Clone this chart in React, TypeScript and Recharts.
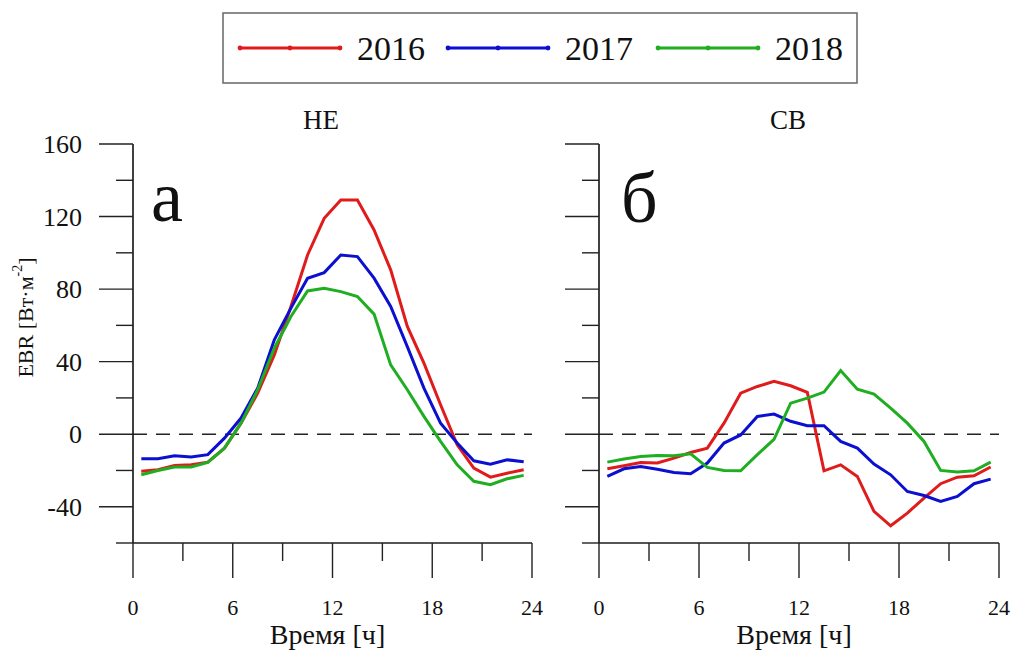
import React from 'react';
import { LineChart, Line, XAxis, YAxis, ReferenceLine } from 'recharts';

const FONT = 'Liberation Serif';

const hours = [0.5, 1.5, 2.5, 3.5, 4.5, 5.5, 6.5, 7.5, 8.5, 9.5, 10.5, 11.5, 12.5, 13.5, 14.5, 15.5, 16.5, 17.5, 18.5, 19.5, 20.5, 21.5, 22.5, 23.5];

const ne2016 = [-20.5, -19.6, -17.2, -16.9, -15.4, -7.7, 6.1, 22.6, 43.7, 70.4, 98.8, 119, 129.1, 129.1, 112.6, 90.6, 59.4, 39.2, 16.2, -5.9, -18.7, -23.7, -21.5, -19.6];
const ne2017 = [-13.5, -13.5, -11.9, -12.6, -11.3, -2.2, 8.9, 25.4, 52, 69.5, 86, 89.1, 98.8, 97.9, 86, 70.4, 48.3, 25.4, 6.1, -4.9, -14.7, -16.5, -14.1, -15.2];
const ne2018 = [-22.4, -20, -18.1, -18.1, -15.6, -7.7, 6.1, 24.5, 47.4, 64.9, 79, 80.5, 78.6, 75.9, 66.2, 38.2, 24.5, 9.8, -4, -16.9, -26, -27.9, -24.6, -22.7];

const cb2016 = [-19.1, -17.4, -15.6, -15.9, -13.2, -10.1, -7.7, 6.1, 22.6, 26.3, 29.1, 26.7, 23, -20.2, -16.9, -23.3, -42.6, -50.5, -43.5, -35.2, -27.3, -23.7, -22.9, -18.1];
const cb2017 = [-23.3, -19.1, -17.8, -19.3, -21.1, -21.8, -15.9, -4.9, -0.4, 9.8, 11.1, 7.1, 4.7, 4.7, -4, -7.7, -16.5, -22.4, -31.6, -33.8, -37.1, -34.3, -27.3, -24.8];
const cb2018 = [-15.4, -13.7, -12.3, -11.7, -11.9, -10.8, -18.3, -20, -20.2, -11.3, -2.8, 17.1, 19.9, 23.2, 35.1, 24.8, 22.1, 14.4, 6.1, -4, -20, -20.9, -20.2, -15.4];

const seriesNames = ['2016', '2017', '2018'];
const seriesColors = ['#e01b1b', '#0a0fd0', '#1fae22'];

const xTicks = [0, 3, 6, 9, 12, 15, 18, 21, 24];
const xLabelTicks = [0, 6, 12, 18, 24];
const yTicks = [-60, -40, -20, 0, 20, 40, 60, 80, 100, 120, 140, 160];
const yLabelTicks = [-40, 0, 40, 80, 120, 160];

const panelTitles = ['НЕ', 'СВ'];
const panelLetters = ['а', 'б'];
const xTitle = 'Время [ч]';

const buildRows = (a: number[], b: number[], c: number[]) =>
  hours.map((h, i) => ({ h, s2016: a[i], s2017: b[i], s2018: c[i] }));

const neRows = buildRows(ne2016, ne2017, ne2018);
const cbRows = buildRows(cb2016, cb2017, cb2018);

const XTick = (props: any) => {
  const { x, y, payload } = props;
  const major = xLabelTicks.includes(payload.value);
  return (
    <g>
      <line x1={x} x2={x} y1={y} y2={y + (major ? 35 : 18)} stroke="#222" strokeWidth={1.4} />
      {major && (
        <text x={x} y={y + 72} textAnchor="middle" fontFamily={FONT} fontSize={22} fill="#111">
          {payload.value}
        </text>
      )}
    </g>
  );
};

const makeYTick = (showLabels: boolean) => (props: any) => {
  const { x, y, payload } = props;
  const major = yLabelTicks.includes(payload.value);
  return (
    <g>
      <line x1={x} x2={x - (major ? 34 : 17)} y1={y} y2={y} stroke="#222" strokeWidth={1.4} />
      {showLabels && major && (
        <text x={x - 51} y={y} dy="0.35em" textAnchor="end" fontFamily={FONT} fontSize={26} fill="#111">
          {payload.value}
        </text>
      )}
    </g>
  );
};

const YLabel = (props: any) => {
  const vb = props.viewBox || {};
  const cx = vb.x + 25;
  const cy = vb.y + vb.height / 2 - 26;
  return (
    <text
      x={cx}
      y={cy}
      transform={`rotate(-90, ${cx}, ${cy})`}
      textAnchor="middle"
      dominantBaseline="central"
      fontFamily={FONT}
      fontSize={22}
      fill="#111"
    >
      EBR [Вт·м<tspan dy={-8} fontSize={14}>-2</tspan>
      <tspan dy={8}>]</tspan>
    </text>
  );
};

const XLabel = (props: any) => {
  const vb = props.viewBox || {};
  return (
    <text
      x={vb.x + vb.width / 2 - 5}
      y={vb.y + 101}
      textAnchor="middle"
      fontFamily={FONT}
      fontSize={28}
      fill="#111"
    >
      {xTitle}
    </text>
  );
};

type PanelProps = {
  rows: any[];
  left: number;
  width: number;
  yAxisWidth: number;
  marginRight: number;
  showYLabels: boolean;
};

const Panel = ({ rows, left, width, yAxisWidth, marginRight, showYLabels }: PanelProps) => (
  <div style={{ position: 'absolute', left, top: 0, width, height: 651 }}>
    <LineChart
      width={width}
      height={651}
      data={rows}
      margin={{ top: 144, right: marginRight, bottom: 0, left: 0 }}
    >
      <XAxis
        xAxisId="b"
        dataKey="h"
        type="number"
        domain={[0, 24]}
        ticks={xTicks}
        interval={0}
        tickSize={0}
        tickMargin={0}
        tickLine={false}
        tick={<XTick />}
        height={108}
        axisLine={{ stroke: '#555', strokeWidth: 2 }}
        label={<XLabel />}
      />
      <XAxis
        xAxisId="t"
        orientation="top"
        type="number"
        domain={[0, 24]}
        height={0}
        tick={false}
        tickLine={false}
        axisLine={{ stroke: '#777', strokeWidth: 2 }}
      />
      <YAxis
        yAxisId="l"
        type="number"
        domain={[-60, 160]}
        ticks={yTicks}
        interval={0}
        tickSize={0}
        tickMargin={0}
        tickLine={false}
        tick={makeYTick(showYLabels)}
        width={yAxisWidth}
        axisLine={{ stroke: '#111', strokeWidth: 1.6 }}
        label={showYLabels ? <YLabel /> : undefined}
      />
      <YAxis
        yAxisId="r"
        orientation="right"
        type="number"
        domain={[-60, 160]}
        width={0}
        tick={false}
        tickLine={false}
        axisLine={{ stroke: '#777', strokeWidth: 2 }}
      />
      <ReferenceLine xAxisId="b" yAxisId="l" y={0} stroke="#222" strokeWidth={1.4} strokeDasharray="14 9" />
      {seriesNames.map((name, i) => (
        <Line
          key={name}
          xAxisId="b"
          yAxisId="l"
          type="linear"
          dataKey={`s${name}`}
          name={name}
          stroke={seriesColors[i]}
          strokeWidth={3}
          dot={false}
          isAnimationActive={false}
        />
      ))}
    </LineChart>
  </div>
);

const starts = [240, 448, 658];

const Overlay = () => (
  <svg
    width={1011}
    height={651}
    style={{ position: 'absolute', left: 0, top: 0, pointerEvents: 'none' }}
  >
    <rect x={223} y={13} width={634} height={70} fill="#fff" stroke="#666" strokeWidth={1.5} />
    {seriesNames.map((name, i) => (
      <g key={name}>
        <line x1={starts[i]} x2={starts[i] + 100} y1={48} y2={48} stroke={seriesColors[i]} strokeWidth={3} />
        <circle cx={starts[i]} cy={48} r={2.4} fill={seriesColors[i]} />
        <circle cx={starts[i] + 50} cy={48} r={2.4} fill={seriesColors[i]} />
        <circle cx={starts[i] + 100} cy={48} r={2.4} fill={seriesColors[i]} />
        <text x={starts[i] + 117} y={60} fontFamily={FONT} fontSize={34} fill="#111">
          {name}
        </text>
      </g>
    ))}
    <text x={321} y={129} textAnchor="middle" fontFamily={FONT} fontSize={27} fill="#111">
      {panelTitles[0]}
    </text>
    <text x={788} y={129} textAnchor="middle" fontFamily={FONT} fontSize={27} fill="#111">
      {panelTitles[1]}
    </text>
    <text x={151} y={221} fontFamily={FONT} fontSize={72} fill="#111">
      {panelLetters[0]}
    </text>
    <text x={621} y={222} fontFamily={FONT} fontSize={72} fill="#111">
      {panelLetters[1]}
    </text>
  </svg>
);

export default function App() {
  return (
    <div style={{ position: 'absolute', left: 0, top: 0, width: 1011, height: 651, background: '#fff', overflow: 'hidden', fontFamily: FONT }}>
      <Panel rows={neRows} left={0} width={560} yAxisWidth={133} marginRight={28} showYLabels={true} />
      <Panel rows={cbRows} left={560} width={451} yAxisWidth={39} marginRight={12} showYLabels={false} />
      <Overlay />
    </div>
  );
}
